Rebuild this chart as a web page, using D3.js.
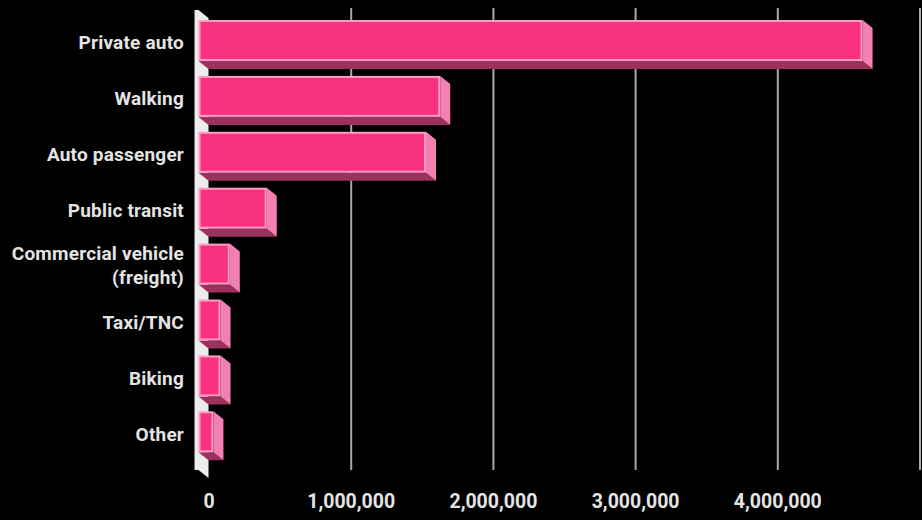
<!DOCTYPE html>
<html>
<head>
<meta charset="utf-8">
<script src="https://cdn.jsdelivr.net/npm/d3@7"></script>
<style>
  html, body { margin: 0; padding: 0; background: #000; }
  svg { display: block; }
  text { font-family: Roboto, "Open Sans", sans-serif; font-weight: 700; fill: #e4e4e4; }
</style>
</head>
<body>
<svg id="chart" width="922" height="520"></svg>
<script>
// Trips by travel mode
const categories = [
  "Private auto",
  "Walking",
  "Auto passenger",
  "Public transit",
  "Commercial vehicle|(freight)",
  "Taxi/TNC",
  "Biking",
  "Other"
];
const trips = [4670000, 1700000, 1600000, 480000, 220000, 155000, 155000, 105000];
const tickValues = [0, 1000000, 2000000, 3000000, 4000000, 5000000];

const svg = d3.select("#chart");

// 3D depth offset of the bars / back wall
const dx = 10, dy = 8;

// value scale on the back wall (gridlines); front faces are shifted by -dx
const xBack = d3.scaleLinear().domain([0, 5000000]).range([208.5, 919.5]);
const xFront = v => xBack(v) - dx;

const y = d3.scaleBand()
  .domain(categories)
  .range([20, 452.3])
  .paddingInner(0.267)
  .paddingOuter(0);

const wallTop = 10, wallBottom = 470;

// gridlines on the back wall
const grid = d3.axisBottom(xBack)
  .tickValues(tickValues.slice(1))
  .tickSize(wallBottom - wallTop + 2)
  .tickFormat("");
svg.append("g")
  .attr("transform", `translate(0,${wallTop - 2})`)
  .call(grid)
  .call(g => g.select(".domain").remove())
  .call(g => g.selectAll("line").attr("stroke", "#a9a9a9").attr("stroke-width", 2));

// base wall at zero
const x0 = xFront(0);
svg.append("polygon")
  .attr("points", [
    [x0 - 4, wallTop], [x0, wallTop], [x0 + dx, wallTop + dy],
    [x0 + dx, wallBottom + dy], [x0, wallBottom], [x0 - 4, wallBottom]
  ].map(p => p.join(",")).join(" "))
  .attr("fill", "#ececec");

// bars: bottom face, right face, front face
const bars = svg.append("g").selectAll("g")
  .data(categories.map((c, i) => ({ c, v: trips[i] })))
  .join("g");

bars.append("polygon")
  .attr("points", d => {
    const yb = y(d.c) + y.bandwidth(), xr = xFront(d.v);
    return [[x0, yb], [xr, yb], [xr + dx, yb + dy], [x0 + dx, yb + dy]].map(p => p.join(",")).join(" ");
  })
  .attr("fill", "#9c325c");

bars.append("polygon")
  .attr("points", d => {
    const yt = y(d.c), yb = yt + y.bandwidth(), xr = xFront(d.v);
    return [[xr, yt], [xr + dx, yt + dy], [xr + dx, yb + dy], [xr, yb]].map(p => p.join(",")).join(" ");
  })
  .attr("fill", "#f47fb1");

bars.append("rect")
  .attr("x", x0 + 1)
  .attr("y", d => y(d.c) + 1)
  .attr("width", d => xFront(d.v) - x0 - 2)
  .attr("height", y.bandwidth() - 2)
  .attr("fill", "#f8327f")
  .attr("stroke", "#ff9cc6")
  .attr("stroke-width", 2);

// category labels
const labels = svg.append("g").selectAll("text")
  .data(categories)
  .join("text")
  .attr("text-anchor", "end")
  .attr("font-size", 19)
  .attr("letter-spacing", 0.2)
  .attr("x", 184)
  .attr("y", d => y(d) + y.bandwidth() / 2 + 3);

labels.each(function (d) {
  const lines = d.split("|");
  const t = d3.select(this);
  lines.forEach((line, i) => {
    t.append("tspan")
      .attr("x", 184)
      .attr("dy", i === 0 ? (6 - (lines.length - 1) * 13) : 24)
      .text(line);
  });
});

// value axis labels
const axis = d3.axisBottom(xBack)
  .tickValues(tickValues.slice(0, 5))
  .tickSize(0)
  .tickPadding(0)
  .tickFormat(d3.format(","));
svg.append("g")
  .attr("transform", "translate(0,489)")
  .call(axis)
  .call(g => g.select(".domain").remove())
  .call(g => g.selectAll("text")
    .attr("font-size", 19.5)
    .attr("fill", "#e4e4e4")
    .attr("font-family", "Roboto, sans-serif")
    .attr("font-weight", 700)
    .attr("dy", "0.95em"));
</script>
</body>
</html>
